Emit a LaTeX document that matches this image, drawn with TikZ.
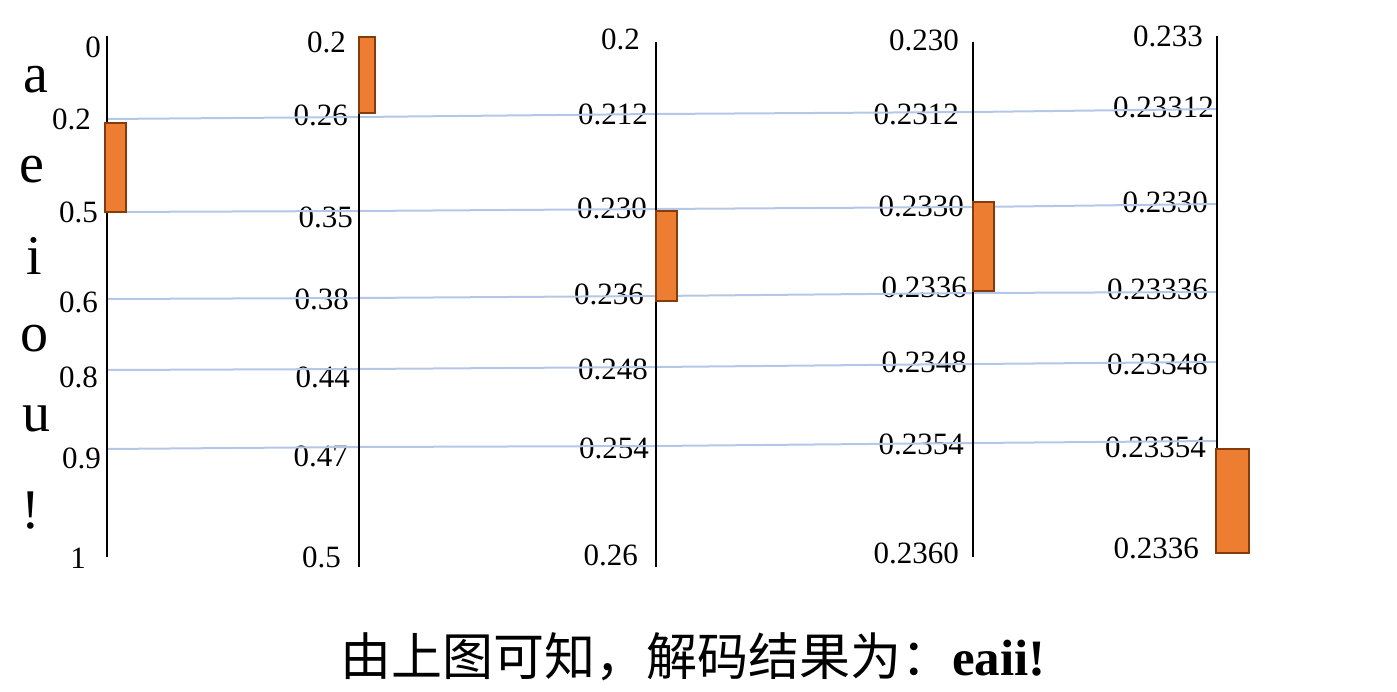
\documentclass[tikz,border=0pt]{standalone}
\usepackage{fontspec}
\setmainfont{Liberation Serif}
\newfontfamily\cjk{Noto Sans CJK SC}
\definecolor{rowblue}{HTML}{B4C7E7}
\definecolor{barorange}{HTML}{ED7D31}
\definecolor{barbrown}{HTML}{843C0C}
\begin{document}
\begin{tikzpicture}[x=1pt,y=-1pt,
  axis/.style={line width=2pt, black},
  row/.style={line width=2pt, rowblue},
  bar/.style={fill=barorange, draw=barbrown, line width=1.5pt},
  lab/.style={anchor=base east, inner sep=0pt, font=\fontsize{31}{31}\selectfont},
  sym/.style={anchor=base, inner sep=0pt, font=\fontsize{56}{56}\selectfont}]
\useasboundingbox (0,0) rectangle (1397,692);

% symbols
\node[sym] (sa) at (36,93) {a};
\node[sym] (se) at (32,183) {e};
\node[sym] (si) at (34,275) {i};
\node[sym] (so) at (34,352) {o};
\node[sym] (su) at (37,431) {u};
\node[sym] (sx) at (31,528) {!};

% labels axis 1
\node[lab] (l10) at (101,58) {0};
\node[lab] (l11) at (91,130) {0.2};
\node[lab] (l12) at (98,223) {0.5};
\node[lab] (l13) at (98,313) {0.6};
\node[lab] (l14) at (98,387) {0.8};
\node[lab] (l15) at (101,468) {0.9};
\node[lab] (l16) at (86,568) {1};
% labels axis 2
\node[lab] (l20) at (346,53) {0.2};
\node[lab] (l21) at (348,126) {0.26};
\node[lab] (l22) at (353,228) {0.35};
\node[lab] (l23) at (349,310) {0.38};
\node[lab] (l24) at (350,387) {0.44};
\node[lab] (l25) at (348,466) {0.47};
\node[lab] (l26) at (341,567) {0.5};
% labels axis 3
\node[lab] (l30) at (640,50) {0.2};
\node[lab] (l31) at (648,125) {0.212};
\node[lab] (l32) at (647,219) {0.230};
\node[lab] (l33) at (644,305) {0.236};
\node[lab] (l34) at (648,380) {0.248};
\node[lab] (l35) at (649,458) {0.254};
\node[lab] (l36) at (638,565) {0.26};
% labels axis 4
\node[lab] (l40) at (959,51) {0.230};
\node[lab] (l41) at (959,125) {0.2312};
\node[lab] (l42) at (964,217) {0.2330};
\node[lab] (l43) at (967,298) {0.2336};
\node[lab] (l44) at (967,373) {0.2348};
\node[lab] (l45) at (964,454) {0.2354};
\node[lab] (l46) at (959,563) {0.2360};
% labels axis 5
\node[lab] (l50) at (1203,47) {0.233};
\node[lab] (l51) at (1214,118) {0.23312};
\node[lab] (l52) at (1208,213) {0.2330};
\node[lab] (l53) at (1208,300) {0.23336};
\node[lab] (l54) at (1208,374) {0.23348};
\node[lab] (l55) at (1206,457) {0.23354};
\node[lab] (l56) at (1199,558) {0.2336};

% row points
\coordinate (r1a) at (107,119); \coordinate (r1b) at (359,117); \coordinate (r1c) at (656,114); \coordinate (r1d) at (973,112); \coordinate (r1e) at (1217,109);
\coordinate (r2a) at (107,212); \coordinate (r2b) at (359,211); \coordinate (r2c) at (656,209); \coordinate (r2d) at (973,207); \coordinate (r2e) at (1217,204);
\coordinate (r3a) at (107,299); \coordinate (r3b) at (359,298); \coordinate (r3c) at (656,296); \coordinate (r3d) at (973,293); \coordinate (r3e) at (1217,292);
\coordinate (r4a) at (107,370); \coordinate (r4b) at (359,369); \coordinate (r4c) at (656,367); \coordinate (r4d) at (973,364); \coordinate (r4e) at (1217,362);
\coordinate (r5a) at (107,449); \coordinate (r5b) at (359,447); \coordinate (r5c) at (656,446); \coordinate (r5d) at (973,443); \coordinate (r5e) at (1217,441);
\draw[row] (r1a) -- (r1b) -- (r1c) -- (r1d) -- (r1e);
\draw[row] (r2a) -- (r2b) -- (r2c) -- (r2d) -- (r2e);
\draw[row] (r3a) -- (r3b) -- (r3c) -- (r3d) -- (r3e);
\draw[row] (r4a) -- (r4b) -- (r4c) -- (r4d) -- (r4e);
\draw[row] (r5a) -- (r5b) -- (r5c) -- (r5d) -- (r5e);

% axes
\coordinate (t1) at (107,36);  \coordinate (b1) at (107,557);
\coordinate (t2) at (359,36);  \coordinate (b2) at (359,567);
\coordinate (t3) at (656,42);  \coordinate (b3) at (656,567);
\coordinate (t4) at (973,42);  \coordinate (b4) at (973,557);
\coordinate (t5) at (1217,36); \coordinate (b5) at (1217,553);
\draw[axis] (t1) -- (b1);
\draw[axis] (t2) -- (b2);
\draw[axis] (t3) -- (b3);
\draw[axis] (t4) -- (b4);
\draw[axis] (t5) -- (b5);

% bars
\draw[bar] (105,123) rectangle (126,212);
\draw[bar] (359,37) rectangle (375,113);
\draw[bar] (656,211) rectangle (677,301);
\draw[bar] (973,202) rectangle (994,291);
\draw[bar] (1216,449) rectangle (1249,553);

% conclusion
\node[anchor=base west, inner sep=0pt] (res) at (340,675)
  {\fontsize{51}{51}\selectfont{\cjk 由上图可知，解码结果为：}\textbf{eaii!}};
\end{tikzpicture}
\end{document}
